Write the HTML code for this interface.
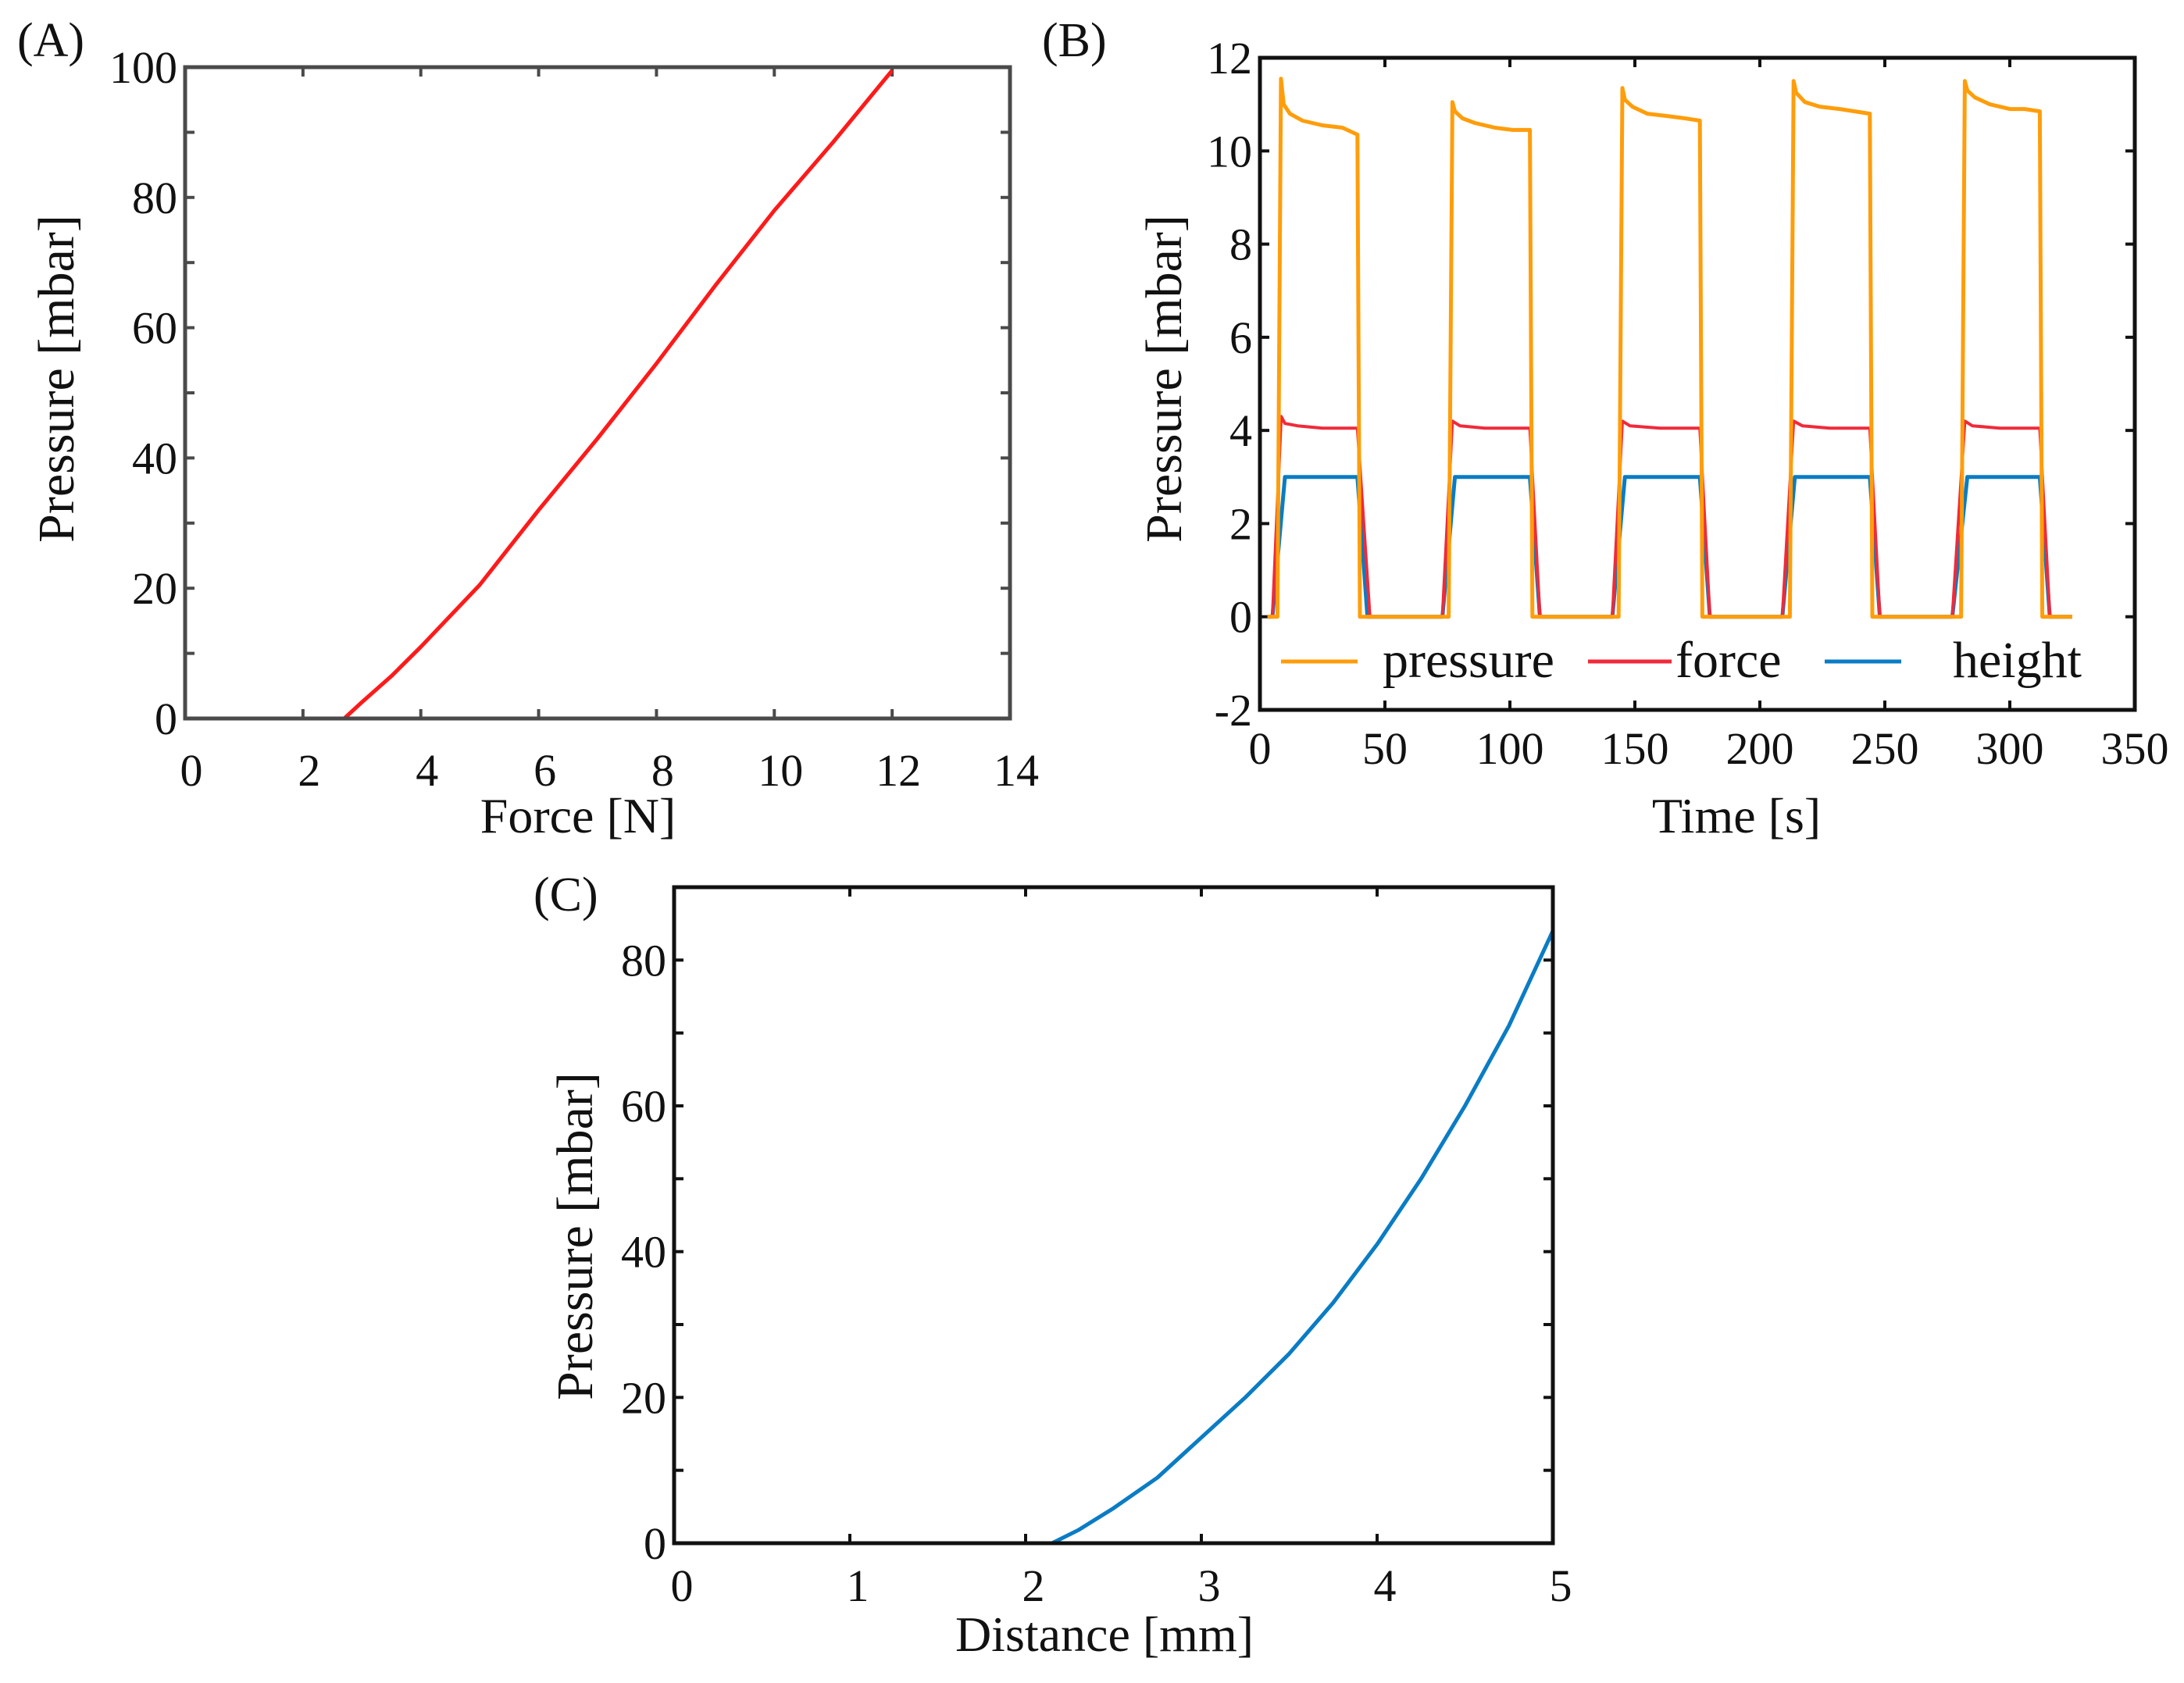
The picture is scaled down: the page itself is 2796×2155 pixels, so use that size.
<!DOCTYPE html>
<html><head><meta charset="utf-8">
<style>
html,body{margin:0;padding:0;background:#fff;}
svg{display:block;font-family:"Liberation Serif",serif;}
</style></head>
<body>
<svg id="fig" width="2796" height="2155" viewBox="0 0 2796 2155" xmlns="http://www.w3.org/2000/svg"></svg>
<script>
// Panel A data
const aForce = [0, 2.7, 3, 3.5, 4, 5, 6, 7, 8, 9, 10, 11, 12];
const aPressure = [0, 0, 2.5, 6.5, 11, 20.5, 32, 43, 54.5, 66.5, 78, 88.5, 99.5];
const aXTicks = [0, 2, 4, 6, 8, 10, 12, 14];
const aYTicks = [0, 20, 40, 60, 80, 100];

// Panel B data
const bPressureT = [3, 7, 8.4, 9.5, 12, 17, 25, 33, 39, 40,
  75.5, 77, 78, 81, 86, 94, 101, 108, 109,
  143.5, 145, 146, 149, 155, 163, 170, 176, 177,
  212, 213.5, 214.5, 218, 224, 232, 238, 244, 245,
  280.5, 282, 283, 286, 292, 300, 306, 312, 313, 325];
const bPressureV = [0, 0, 11.55, 11.0, 10.8, 10.65, 10.55, 10.5, 10.35, 0,
  0, 11.05, 10.85, 10.7, 10.6, 10.5, 10.45, 10.45, 0,
  0, 11.35, 11.1, 10.95, 10.8, 10.75, 10.7, 10.65, 0,
  0, 11.5, 11.25, 11.05, 10.95, 10.9, 10.85, 10.8, 0,
  0, 11.5, 11.3, 11.15, 11.0, 10.9, 10.9, 10.85, 0, 0];
const bForceT = [3, 5, 8.5, 10, 15, 25, 39, 44,
  73, 77, 80, 90, 108, 112,
  141, 145, 148, 160, 176, 180,
  209, 213.5, 217, 228, 244, 248,
  277, 282, 285, 296, 312, 316, 325];
const bForceV = [0, 0, 4.3, 4.15, 4.1, 4.05, 4.05, 0,
  0, 4.2, 4.1, 4.05, 4.05, 0,
  0, 4.2, 4.1, 4.05, 4.05, 0,
  0, 4.2, 4.1, 4.05, 4.05, 0,
  0, 4.2, 4.1, 4.05, 4.05, 0, 0];
const bHeightT = [3, 5, 10, 39, 43, 73, 78, 108, 112, 141, 146, 176, 180, 209, 214, 244, 248, 277, 283, 312, 316, 325];
const bHeightV = [0, 0, 3, 3, 0, 0, 3, 3, 0, 0, 3, 3, 0, 0, 3, 3, 0, 0, 3, 3, 0, 0];
const bXTicks = [0, 50, 100, 150, 200, 250, 300, 350];
const bYTicks = [-2, 0, 2, 4, 6, 8, 10, 12];

// Panel C data
const cDist = [0, 2.15, 2.3, 2.5, 2.75, 3, 3.25, 3.5, 3.75, 4, 4.25, 4.5, 4.75, 5];
const cPressure = [0, 0, 1.8, 4.8, 9, 14.5, 20, 26, 33, 41, 50, 60, 71, 84];
const cXTicks = [0, 1, 2, 3, 4, 5];
const cYTicks = [0, 20, 40, 60, 80];

const NS = "http://www.w3.org/2000/svg";
const svg = document.getElementById('fig');
function mk(tag, attrs, parent) {
  const e = document.createElementNS(NS, tag);
  for (const k in attrs) e.setAttribute(k, attrs[k]);
  (parent || svg).appendChild(e);
  return e;
}
function txt(s, x, y, size, anchor, parent, rot) {
  const t = mk('text', {x: x, y: y, 'font-size': size, 'text-anchor': anchor, fill: '#111'}, parent);
  if (rot) t.setAttribute('transform', 'rotate(-90 ' + x + ' ' + y + ')');
  t.textContent = s;
  return t;
}

function panel(cfg) {
  const g = mk('g', {});
  
  
  const sx = v => cfg.x0 + (v - cfg.xmin) / (cfg.xmax - cfg.xmin) * (cfg.x1 - cfg.x0);
  const sy = v => cfg.y1 - (v - cfg.ymin) / (cfg.ymax - cfg.ymin) * (cfg.y1 - cfg.y0);
  const tg = mk('g', {stroke: cfg.axisColor, 'stroke-width': 4}, g);
  
  
  cfg.xMinor.forEach(v => {
    const x = sx(v);
    mk('line', {x1: x, y1: cfg.y1, x2: x, y2: cfg.y1 - 12}, tg);
    mk('line', {x1: x, y1: cfg.y0, x2: x, y2: cfg.y0 + 12}, tg);
  });
  cfg.yMinor.forEach(v => {
    const y = sy(v);
    mk('line', {x1: cfg.x0, y1: y, x2: cfg.x0 + 12, y2: y}, tg);
    mk('line', {x1: cfg.x1, y1: y, x2: cfg.x1 - 12, y2: y}, tg);
  });
  const lg = mk('g', {}, g);
  
  
  cfg.xTicks.forEach(v => txt(String(v), sx(v) + cfg.xLabelDx, cfg.xLabelY, 58, 'middle', lg));
  const yg = mk('g', {}, g);
  
  
  cfg.yTicks.forEach(v => txt(String(v), cfg.x0 - 10, sy(v) + 20, 58, 'end', yg));
  cfg.series.forEach(s => {
    let d = '';
    s.xs.forEach((v, i) => { d += (i ? 'L' : 'M') + sx(v).toFixed(1) + ' ' + sy(s.ys[i]).toFixed(1); });
    const p = mk('path', {d: d, fill: 'none', stroke: s.color, 'stroke-width': s.w || 4, 'stroke-linejoin': 'round'}, g);
    
    
  });
  const f = mk('rect', {x: cfg.x0, y: cfg.y0, width: cfg.x1 - cfg.x0, height: cfg.y1 - cfg.y0, fill: 'none', stroke: cfg.axisColor, 'stroke-width': 5}, g);
  
  
  const xt = txt(cfg.xTitle, cfg.xTitleX, cfg.xTitleY, 64, 'middle', g);
  
  
  const yt = txt(cfg.yTitle, cfg.yTitleX, cfg.yTitleY, 66, 'middle', g, true);
  
  
  const pl = txt(cfg.label, cfg.labelX, cfg.labelY, 62, 'start', g);
  
  
  return {g, sx, sy};
}

const rng = (a, b, s) => { const r = []; for (let v = a; v <= b + 1e-9; v += s) r.push(v); return r; };

panel({name: 'panel-a-chart', x0: 237, x1: 1293, y0: 86, y1: 920,
  xmin: 0, xmax: 14, ymin: 0, ymax: 100, axisColor: '#4a4a4a',
  xMinor: rng(0, 14, 2), yMinor: rng(0, 100, 10), xTicks: aXTicks, yTicks: aYTicks,
  xLabelDx: 8, xLabelY: 1006, xTitle: 'Force [N]', xTitleX: 740, xTitleY: 1066,
  yTitle: 'Pressure [mbar]', yTitleX: 94, yTitleY: 485, label: '(A)', labelX: 22, labelY: 72,
  series: [{name: 'force-pressure-line', xs: aForce, ys: aPressure, color: '#ff1a1a', w: 5}]});

panel({name: 'panel-b-chart', x0: 1613, x1: 2733, y0: 74, y1: 909,
  xmin: 0, xmax: 350, ymin: -2, ymax: 12, axisColor: '#111',
  xMinor: rng(0, 350, 50), yMinor: rng(-2, 12, 2), xTicks: bXTicks, yTicks: bYTicks,
  xLabelDx: 0, xLabelY: 978, xTitle: 'Time [s]', xTitleX: 2223, xTitleY: 1066,
  yTitle: 'Pressure [mbar]', yTitleX: 1512, yTitleY: 485, label: '(B)', labelX: 1334, labelY: 72,
  series: [
    {name: 'height-line', xs: bHeightT, ys: bHeightV, color: '#0a7cc4', w: 5},
    {name: 'force-line', xs: bForceT, ys: bForceV, color: '#f02a3a', w: 4},
    {name: 'pressure-line', xs: bPressureT, ys: bPressureV, color: '#ff9d0a', w: 5}
  ]});
const leg = mk('g', {});


[['pressure', '#ff9d0a', 1640, 1738, 1770], ['force', '#f02a3a', 2033, 2140, 2145], ['height', '#0a7cc4', 2336, 2434, 2500]].forEach(e => {
  const eg = mk('g', {}, leg);
  
  
  mk('line', {x1: e[2], y1: 847, x2: e[3], y2: 847, stroke: e[1], 'stroke-width': 5}, eg);
  txt(e[0], e[4], 867, 66, 'start', eg);
});

panel({name: 'panel-c-chart', x0: 863, x1: 1988, y0: 1136, y1: 1976,
  xmin: 0, xmax: 5, ymin: 0, ymax: 90, axisColor: '#111',
  xMinor: rng(0, 5, 1), yMinor: rng(0, 90, 10), xTicks: cXTicks, yTicks: cYTicks,
  xLabelDx: 10, xLabelY: 2050, xTitle: 'Distance [mm]', xTitleX: 1414, xTitleY: 2114,
  yTitle: 'Pressure [mbar]', yTitleX: 758, yTitleY: 1583, label: '(C)', labelX: 683, labelY: 1166,
  series: [{name: 'distance-pressure-line', xs: cDist, ys: cPressure, color: '#0a7cc4', w: 5}]});
</script>
</body></html>
